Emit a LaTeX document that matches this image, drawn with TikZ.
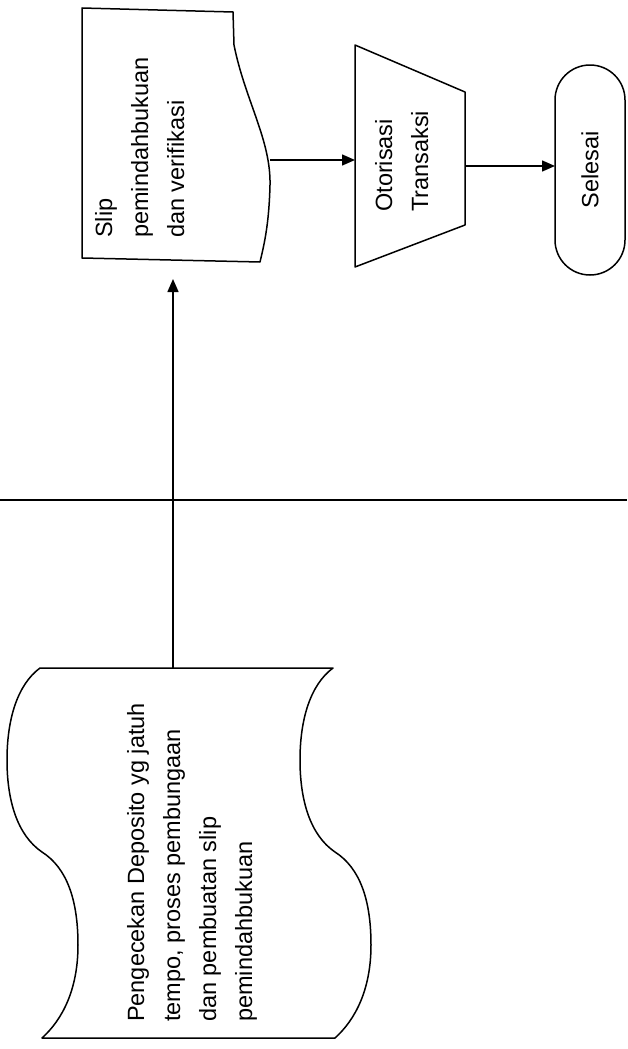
\documentclass[tikz,border=0pt]{standalone}
\usepackage{fontspec}
\setmainfont{Liberation Sans}
\usetikzlibrary{arrows.meta}
\begin{document}
\begin{tikzpicture}[x=1pt,y=-1pt,
  shapeline/.style={line width=1.5pt, line join=round},
  arr/.style={line width=1.5pt, -{Triangle[length=13pt,width=11pt]}},
  lbl/.style={font=\fontsize{23.5}{36}\selectfont, align=left, inner sep=0pt, rotate=90, anchor=north west}]
\useasboundingbox (0,0) rectangle (627,1049);
\fill[white] (0,0) rectangle (627,1049);

% lane separator
\draw[line width=1.3pt] (0,500) -- (627,500);

% punched tape: Pengecekan ...
\draw[shapeline] (40,668) -- (333,668)
  .. controls (310,685) and (300,720) .. (300,760)
  .. controls (300,800) and (310,835) .. (335,852)
  .. controls (360,868) and (371,900) .. (371,945)
  .. controls (371,990) and (355,1020) .. (335,1038)
  -- (42,1038)
  .. controls (62,1020) and (78,990) .. (78,945)
  .. controls (78,900) and (67,868) .. (42,852)
  .. controls (17,835) and (7,800) .. (7,760)
  .. controls (7,720) and (17,685) .. (40,668) -- cycle;
\node[lbl] (cek) at (127,1022) {Pengecekan Deposito yg jatuh\\tempo, proses pembungaan\\dan pembuatan slip\\pemindahbukuan};

% document: Slip
\draw[shapeline] (82,8) -- (233,12) -- (234,45)
  .. controls (245,100) and (271,140) .. (270,185)
  .. controls (269,225) and (264,245) .. (260,262)
  -- (82,258) -- cycle;
\node[lbl] (slip) at (95,238) {Slip\\pemindahbukuan\\dan verifikasi};

% manual operation: Otorisasi
\draw[shapeline] (355,45) -- (465,92) -- (465,225) -- (355,267) -- cycle;
\node[lbl] (oto) at (375,212) {Otorisasi\\Transaksi};

% terminator: Selesai
\draw[shapeline, rounded corners=35pt] (555,65) rectangle (625,275);
\node[lbl, anchor=center] (selesai) at (590,170) {Selesai};

% connector end points
\coordinate (cekTop) at (173,668);
\coordinate (slipIn) at (173,279);
\coordinate (slipOut) at (270,160);
\coordinate (otoIn) at (355,160);
\coordinate (otoOut) at (465,166);
\coordinate (selIn) at (555,166);

\draw[arr] (cekTop) -- (slipIn);
\draw[arr] (slipOut) -- (otoIn);
\draw[arr] (otoOut) -- (selIn);
\end{tikzpicture}
\end{document}
